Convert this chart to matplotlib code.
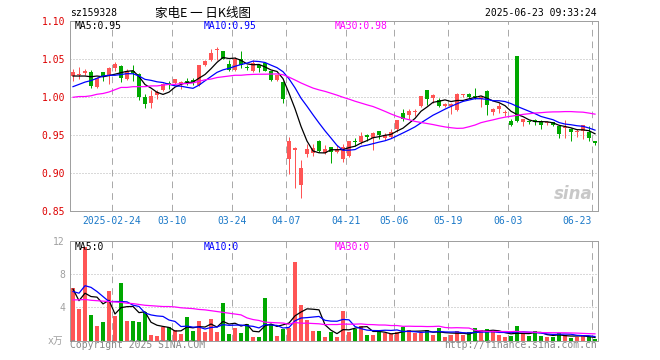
import numpy as np
import pandas as pd
import matplotlib.pyplot as plt

plt.rcParams['lines.scale_dashes'] = False
plt.rcParams['font.family'] = ['DejaVu Sans Mono', 'Noto Sans CJK SC']

# daily OHLC, 2025-02-13 .. 2025-06-23 (88 trading days)
opens = [1.028, 1.029, 1.032, 1.033, 1.013, 1.033, 1.028, 1.038, 1.041, 1.024,
         1.034, 1.031, 1.001, 0.992, 1.003, 1.009, 1.019, 1.019, 1.017, 1.022,
         1.023, 1.016, 1.042, 1.049, 1.062, 1.061, 1.044, 1.036, 1.050, 1.040,
         1.034, 1.042, 1.045, 1.034, 1.023, 1.020, 0.919, 0.931, 0.884, 0.926,
         0.927, 0.943, 0.927, 0.934, 0.928, 0.919, 0.923, 0.943, 0.941, 0.951,
         0.946, 0.956, 0.946, 0.948, 0.958, 0.980, 0.977, 0.981, 0.989, 1.010,
         0.999, 0.996, 0.989, 0.989, 0.983, 1.003, 1.004, 1.002, 0.998, 1.008,
         0.981, 0.984, 0.979, 0.969, 1.054, 0.968, 0.969, 0.970, 0.969, 0.966,
         0.967, 0.962, 0.959, 0.958, 0.955, 0.956, 0.955, 0.943]
highs = [1.037, 1.040, 1.037, 1.036, 1.027, 1.033, 1.040, 1.046, 1.043, 1.037,
         1.042, 1.032, 1.005, 1.010, 1.010, 1.019, 1.022, 1.024, 1.021, 1.026,
         1.026, 1.043, 1.049, 1.064, 1.066, 1.061, 1.049, 1.053, 1.061, 1.043,
         1.049, 1.044, 1.046, 1.035, 1.030, 1.021, 0.948, 0.935, 0.918, 0.939,
         0.939, 0.944, 0.937, 0.935, 0.937, 0.939, 0.943, 0.946, 0.955, 0.952,
         0.954, 0.956, 0.953, 0.958, 0.970, 0.985, 0.985, 0.985, 1.002, 1.010,
         1.005, 0.999, 0.992, 0.992, 1.006, 1.004, 1.006, 1.012, 1.002, 1.009,
         0.986, 0.993, 0.983, 0.972, 1.054, 0.971, 0.970, 0.971, 0.970, 0.969,
         0.968, 0.963, 0.970, 0.960, 0.958, 0.963, 0.962, 0.943]
lows = [1.022, 1.024, 1.029, 1.012, 1.012, 1.021, 1.017, 1.035, 1.020, 1.023,
        1.021, 0.997, 0.986, 0.986, 0.998, 1.008, 1.011, 1.018, 1.011, 1.016,
        1.016, 1.015, 1.041, 1.048, 1.049, 1.050, 1.034, 1.035, 1.038, 1.036,
        1.033, 1.033, 1.035, 1.021, 1.022, 0.992, 0.899, 0.881, 0.867, 0.921,
        0.923, 0.928, 0.925, 0.914, 0.927, 0.915, 0.921, 0.936, 0.939, 0.942,
        0.931, 0.945, 0.944, 0.947, 0.955, 0.969, 0.971, 0.976, 0.987, 0.990,
        0.992, 0.987, 0.987, 0.978, 0.982, 1.001, 0.999, 0.998, 0.987, 0.977,
        0.977, 0.980, 0.975, 0.962, 0.967, 0.962, 0.965, 0.963, 0.958, 0.964,
        0.962, 0.946, 0.946, 0.943, 0.948, 0.945, 0.943, 0.937]
closes = [1.033, 1.031, 1.035, 1.015, 1.026, 1.028, 1.039, 1.044, 1.025, 1.035,
          1.032, 1.001, 0.991, 1.002, 1.007, 1.018, 1.016, 1.024, 1.020, 1.020,
          1.019, 1.043, 1.048, 1.058, 1.062, 1.051, 1.036, 1.051, 1.043, 1.039,
          1.045, 1.038, 1.035, 1.023, 1.029, 0.998, 0.942, 0.933, 0.907, 0.932,
          0.933, 0.930, 0.932, 0.928, 0.932, 0.934, 0.943, 0.941, 0.949, 0.948,
          0.953, 0.950, 0.950, 0.955, 0.970, 0.972, 0.982, 0.982, 1.002, 0.998,
          1.003, 0.989, 0.991, 0.991, 1.005, 1.003, 1.000, 1.000, 1.001, 0.990,
          0.985, 0.989, 0.980, 0.964, 0.969, 0.971, 0.968, 0.968, 0.964, 0.968,
          0.964, 0.952, 0.960, 0.955, 0.956, 0.963, 0.946, 0.940]
volumes = [6.3, 3.8, 11.2, 3.08, 1.76, 2.24, 5.96, 2.96, 6.92, 2.36,
           2.36, 2.24, 3.44, 0.68, 0.56, 1.64, 1.64, 1.28, 0.8, 2.84,
           1.16, 2.36, 1.04, 2.6, 1.04, 4.52, 0.8, 1.52, 0.92, 2.0,
           0.44, 0.44, 5.12, 2.0, 0.56, 1.4, 1.52, 9.44, 4.28, 2.48,
           1.16, 1.16, 0.44, 1.04, 0.44, 3.56, 1.04, 1.4, 1.76, 0.68,
           0.68, 1.04, 0.92, 0.8, 1.04, 1.64, 1.28, 0.92, 0.92, 1.28,
           0.68, 1.52, 0.44, 0.68, 1.16, 0.68, 1.04, 1.52, 1.28, 1.4,
           1.04, 0.68, 0.44, 0.56, 1.76, 0.92, 0.56, 1.16, 0.56, 0.44,
           0.44, 0.92, 0.68, 0.32, 0.44, 0.56, 0.44, 0.2]

# moving-average values at the left edge (they depend on days before the chart)
ma5_head = [1.028, 1.028, 1.028, 1.027]
ma10_head = [1.014, 1.017, 1.020, 1.022, 1.025, 1.028, 1.029, 1.029, 1.030]
ma30_head = [1.000, 1.001, 1.001, 1.002, 1.004, 1.005, 1.007, 1.010, 1.013, 1.013,
             1.014, 1.014, 1.014, 1.015, 1.015, 1.016, 1.017, 1.017, 1.018, 1.018,
             1.019, 1.021, 1.023, 1.024, 1.026, 1.027, 1.028, 1.029, 1.029]
vol_ma5_head = [6.2, 4.8, 5.7, 5.3]
vol_ma10_head = [5.9, 5.7, 6.6, 6.4, 5.9, 5.3, 4.7, 4.7, 4.7]
vol_ma30_head = [4.9, 4.9, 4.95, 4.85, 4.8, 4.75, 4.7, 4.65, 4.6, 4.5,
                 4.45, 4.35, 4.25, 4.2, 4.15, 4.1, 4.1, 4.05, 3.95, 3.9,
                 3.85, 3.75, 3.7, 3.6, 3.5, 3.4, 3.3, 3.2, 3.1]

tick_pos = [7, 17, 27, 36, 46, 54, 63, 73, 87]
tick_labels = ['2025-02-24', '03-10', '03-24', '04-07', '04-21', '05-06', '05-19', '06-03', '06-23']


def moving_avg(values, n, head):
    s = pd.Series(values).rolling(n).mean()
    s.iloc[:len(head)] = head
    return s.values


RED = '#ff5555'
GREEN = '#00a800'
FRAME = '#a0a0a0'
px = 0.72

n = len(closes)
x = np.arange(n)
up = np.array(closes) >= np.array(opens)
colors = [RED if u else GREEN for u in up]

fig = plt.figure(figsize=(6.6, 3.6), dpi=100)
ax = fig.add_axes([70 / 660, 1 - 211.3 / 360, 528 / 660, 190 / 360])
axv = fig.add_axes([70 / 660, 1 - 340.7 / 360, 528 / 660, 100 / 360])

# ---- price panel
for yv in [0.90, 0.95, 1.00, 1.05]:
    ax.axhline(yv, color='#b4b4b4', lw=px, ls=(0, (0.72, 1.44)), zorder=0)
for a in (ax, axv):
    for p in tick_pos:
        a.axvline(p - 0.5, color='#aaaaaa', lw=px, ls=(0, (4.8, 3.6)), zorder=0)

ax.vlines(x, lows, highs, colors=colors, lw=px, zorder=2)
body_lo = np.minimum(opens, closes)
body_h = np.maximum(np.abs(np.array(closes) - np.array(opens)), 0.0013)
ax.bar(x, body_h, bottom=body_lo, width=0.8, color=colors, zorder=3)

ax.plot(x, moving_avg(closes, 5, ma5_head), color='black', lw=0.9, zorder=4)
ax.plot(x, moving_avg(closes, 10, ma10_head), color='#0000ff', lw=0.9, zorder=4)
ax.plot(x, moving_avg(closes, 30, ma30_head), color='#ff00ff', lw=0.9, zorder=4)

ax.set_xlim(-0.5, n - 0.5)
ax.set_ylim(0.85, 1.10)
ax.set_xticks([])
ax.set_yticks([0.85, 0.90, 0.95, 1.00, 1.05, 1.10])
ax.set_yticklabels(['%.2f' % v for v in [0.85, 0.90, 0.95, 1.00, 1.05, 1.10]])
ax.tick_params(axis='y', length=0, pad=3.6, labelcolor='#dd0000', labelsize=7)

for p, lab in zip(tick_pos, tick_labels):
    ha = 'right' if lab == tick_labels[-1] else 'center'
    ax.text(p - 0.5, -0.051, lab, transform=ax.get_xaxis_transform(),
            ha=ha, va='center', fontsize=7, color='#1a78c8')

ax.text(0.0095, 0.975, 'MA5:0.95', transform=ax.transAxes, fontsize=7, color='black', va='center')
ax.text(0.254, 0.975, 'MA10:0.95', transform=ax.transAxes, fontsize=7, color='#0000ff', va='center')
ax.text(0.502, 0.975, 'MA30:0.98', transform=ax.transAxes, fontsize=7, color='#ff00ff', va='center')
ax.text(0.99, 0.09, 'sina', transform=ax.transAxes, ha='right', va='center', fontsize=12,
        color='#c8c8c8', fontstyle='italic', fontweight='bold', family='DejaVu Sans')

# ---- volume panel
for yv in [4, 8]:
    axv.axhline(yv, color='#b4b4b4', lw=px, ls=(0, (0.72, 1.44)), zorder=0)
axv.bar(x, volumes, width=0.78, color=colors, zorder=2)
axv.plot(x, moving_avg(volumes, 5, vol_ma5_head), color='black', lw=0.9, zorder=4)
axv.plot(x, moving_avg(volumes, 10, vol_ma10_head), color='#0000ff', lw=0.9, zorder=4)
axv.plot(x, moving_avg(volumes, 30, vol_ma30_head), color='#ff00ff', lw=0.9, zorder=4)
axv.set_xlim(-0.5, n - 0.5)
axv.set_ylim(0, 12)
axv.set_xticks([])
axv.set_yticks([4, 8, 12])
axv.tick_params(axis='y', length=0, pad=3.6, labelcolor='#a0a0a0', labelsize=7)
axv.text(-0.0135, 0, 'x万', transform=axv.transAxes, ha='right', va='center',
         fontsize=7, color='#a0a0a0')
axv.text(0.0095, 0.942, 'MA5:0', transform=axv.transAxes, fontsize=7, color='black', va='center')
axv.text(0.254, 0.942, 'MA10:0', transform=axv.transAxes, fontsize=7, color='#0000ff', va='center')
axv.text(0.502, 0.942, 'MA30:0', transform=axv.transAxes, fontsize=7, color='#ff00ff', va='center')

for a in (ax, axv):
    for s in a.spines.values():
        s.set_color(FRAME)
        s.set_linewidth(px)

# ---- header / footer
fig.text(70 / 660, 1 - 13 / 360, 'sz159328', fontsize=7, va='center')
fig.text(203 / 660, 1 - 13 / 360, '家电E 一 日K线图', fontsize=9, ha='center', va='center',
         family=['Noto Sans CJK SC', 'DejaVu Sans'])
fig.text(597 / 660, 1 - 13 / 360, '2025-06-23 09:33:24', fontsize=7, ha='right', va='center')
fig.text(70 / 660, 1 - 345.5 / 360, 'Copyright 2025 SINA.COM', fontsize=7, va='center', color='#888888')
fig.text(597 / 660, 1 - 345.5 / 360, 'http://finance.sina.com.cn', fontsize=7, ha='right',
         va='center', color='#888888')

fig.savefig('out.png', dpi=100)
